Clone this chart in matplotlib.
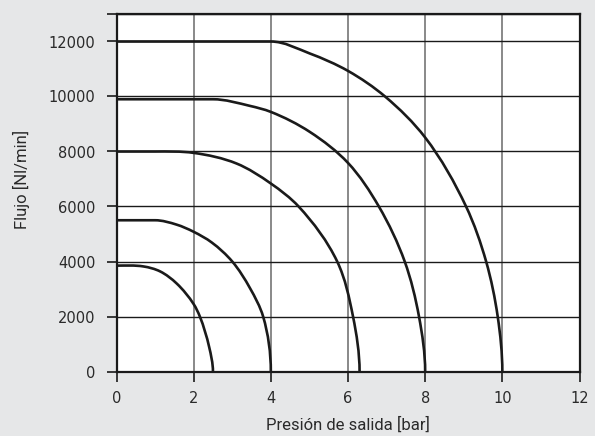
import matplotlib
matplotlib.use("Agg")
import matplotlib.pyplot as plt
import numpy as np
from matplotlib.path import Path
from matplotlib.patches import PathPatch

plt.rcParams["font.family"] = ["DejaVu Sans"]

# Data (pressure [bar] -> flow [Nl/min])
c1_x = [0, 0.7, 1.13, 1.56, 2.0, 2.16, 2.4, 2.5]
c1_y = [3850, 3820, 3640, 3200, 2450, 2000, 900, 0]

c2_x = [0, 1.0, 1.56, 2.0, 2.47, 3.0, 3.46, 3.80, 4.0]
c2_y = [5500, 5500, 5340, 5080, 4690, 4000, 3030, 2000, 0]

c3_x = [0, 1.0, 2.0, 3.11, 4.0, 4.72, 5.72, 6.13, 6.3]
c3_y = [8000, 8000, 7950, 7564, 6836, 6000, 4000, 2000, 0]

c4_x = [0, 2.5, 3.46, 4.0, 5.01, 6.0, 6.8, 7.47, 7.84, 8.0]
c4_y = [9900, 9900, 9658, 9440, 8713, 7585, 6000, 4000, 2000, 0]

c5_x = [0, 4.0, 5.01, 6.0, 6.96, 8.0, 9.06, 9.58, 9.88, 10.0]
c5_y = [12000, 12000, 11564, 10931, 10000, 8509, 6000, 4000, 2000, 0]

curves = [(c1_x, c1_y), (c2_x, c2_y), (c3_x, c3_y), (c4_x, c4_y), (c5_x, c5_y)]

x_ticks = [0, 2, 4, 6, 8, 10, 12]
y_ticks = [0, 2000, 4000, 6000, 8000, 10000, 12000]
x_label = "Presión de salida [bar]"
y_label = "Flujo [Nl/min]"

bg = "#e6e7e8"
ink = "#1a1a1a"
text_c = "#2a2a2a"


def smooth_path(xs, ys, kx, ky):
    """Cubic Bezier path passing through the given data points."""
    P = np.column_stack([np.asarray(xs, float) * kx, np.asarray(ys, float) * ky])
    n = len(P)
    d = np.linalg.norm(np.diff(P, axis=0), axis=1)
    T = np.zeros_like(P)
    for i in range(n):
        if i == 0:
            t = np.array([1.0, 0.0])
        elif i == n - 1:
            t = np.array([0.0, -1.0])
        elif P[i - 1, 1] == P[i, 1]:
            t = np.array([1.0, 0.0])
        else:
            t = (P[i + 1] - P[i]) / d[i] + (P[i] - P[i - 1]) / d[i - 1]
        T[i] = t / np.linalg.norm(t)
    verts = [P[0]]
    codes = [Path.MOVETO]
    for i in range(n - 1):
        if P[i, 1] == P[i + 1, 1]:
            verts.append(P[i + 1])
            codes.append(Path.LINETO)
            continue
        verts += [P[i] + T[i] * d[i] / 3, P[i + 1] - T[i + 1] * d[i] / 3, P[i + 1]]
        codes += [Path.CURVE4] * 3
    V = np.array(verts)
    V[:, 0] /= kx
    V[:, 1] /= ky
    return Path(V, codes)


fig = plt.figure(figsize=(5.95, 4.36), dpi=100, facecolor=bg)
ax = fig.add_axes([116.5 / 595, 1 - 371.5 / 436, (579.5 - 116.5) / 595, (371.5 - 14) / 436])
ax.set_facecolor("white")

ax.set_xlim(0, 12)
ax.set_ylim(0, 13000)

kx = 463.0 / 12
ky = 357.5 / 13000
for xs, ys in curves:
    ax.add_patch(PathPatch(smooth_path(xs, ys, kx, ky), facecolor="none", edgecolor=ink,
                           lw=1.9, capstyle="butt", joinstyle="round", zorder=3))

ax.set_xticks(x_ticks)
ax.set_yticks(y_ticks + [13000])
ax.set_yticklabels([str(v) for v in y_ticks] + [""])

ax.xaxis.grid(True, color="#6a6a6a", lw=1.1)
ax.yaxis.grid(True, color=ink, lw=1.0)
ax.set_axisbelow(True)

for s in ax.spines.values():
    s.set_color(ink)
    s.set_linewidth(1.6)

ax.tick_params(axis="both", direction="out", length=7, width=1.2, color=ink,
               labelsize=10.5, labelcolor=text_c)
ax.tick_params(axis="x", pad=7)
ax.tick_params(axis="y", pad=8)

ax.set_xlabel(x_label, family=["Roboto", "DejaVu Sans"], fontsize=12, color=text_c, va="center")
ax.set_ylabel(y_label, family=["Roboto", "DejaVu Sans"], fontsize=12, color=text_c, va="center")
ax.xaxis.set_label_coords(0.5, -0.1497)
ax.yaxis.set_label_coords(-0.206, 0.538)

fig.savefig("out.png", dpi=100, facecolor=bg)
